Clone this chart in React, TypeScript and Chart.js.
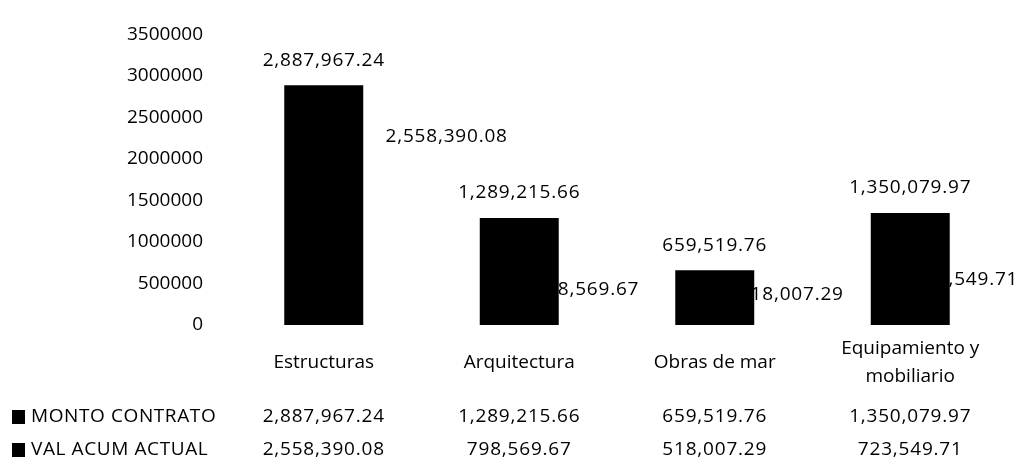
import React, { useEffect, useRef } from "react";
import { Chart, registerables } from "chart.js";

Chart.register(...registerables);

// ---- data ----
const categoryLabels: (string | string[])[] = [
  "Estructuras",
  "Arquitectura",
  "Obras de mar",
  ["Equipamiento y", "mobiliario"],
];
const seriesNames = ["MONTO CONTRATO", "VAL ACUM ACTUAL"];
const montoContrato = [2887967.24, 1289215.66, 659519.76, 1350079.97];
const valAcumActual = [2558390.08, 798569.67, 518007.29, 723549.71];
const yMin = 0;
const yMax = 3500000;
const yStep = 500000;

// ---- style ----
const FONT = "'Open Sans', Lato, sans-serif";
const FONT_SIZE = 19;
const TEXT = "#000";
const SPACING = "0.8px";
// manually moved labels of the second series (offsets from bar centre / value pixel)
const valLabelDX = [184, 120, 129, 108];
const valLabelDY = [24, 31, 13, 15];
const tableRowY = [417, 450];

const fmt = new Intl.NumberFormat("en-US", {
  minimumFractionDigits: 2,
  maximumFractionDigits: 2,
});

function setFont(ctx: any, spacing: string) {
  ctx.font = `${FONT_SIZE}px ${FONT}`;
  ctx.fillStyle = TEXT;
  try {
    ctx.letterSpacing = spacing;
  } catch (e) {}
}

const labelsPlugin = {
  id: "customLabels",
  beforeDatasetsDraw(chart: any) {
    const ctx = chart.ctx;
    const meta = chart.getDatasetMeta(1);
    ctx.save();
    setFont(ctx, SPACING);
    ctx.textAlign = "right";
    ctx.textBaseline = "middle";
    meta.data.forEach((el: any, i: number) => {
      ctx.fillText(fmt.format(valAcumActual[i]), el.x + valLabelDX[i], el.y + valLabelDY[i]);
    });
    ctx.restore();
  },
  afterDatasetsDraw(chart: any) {
    const ctx = chart.ctx;
    const meta = chart.getDatasetMeta(0);
    ctx.save();
    setFont(ctx, SPACING);
    ctx.textAlign = "center";
    ctx.textBaseline = "middle";
    meta.data.forEach((el: any, i: number) => {
      ctx.fillText(fmt.format(montoContrato[i]), el.x, el.y - 25);
    });
    ctx.restore();
  },
  afterDraw(chart: any) {
    const ctx = chart.ctx;
    const x = chart.scales.x;
    const rows = [montoContrato, valAcumActual];
    ctx.save();
    ctx.textBaseline = "middle";
    rows.forEach((vals, r) => {
      const y = tableRowY[r];
      setFont(ctx, "0.6px");
      ctx.fillRect(12, y - 7, 13, 14);
      ctx.textAlign = "left";
      ctx.fillText(seriesNames[r], 31, y);
      setFont(ctx, SPACING);
      ctx.textAlign = "center";
      vals.forEach((v, i) => {
        ctx.fillText(fmt.format(v), x.getPixelForValue(i), y);
      });
    });
    ctx.restore();
  },
};

export default function App() {
  const ref = useRef<HTMLCanvasElement | null>(null);

  useEffect(() => {
    if (!ref.current) return;
    const chart = new Chart(ref.current, {
      type: "bar",
      data: {
        labels: categoryLabels as any,
        datasets: [
          {
            label: seriesNames[0],
            data: montoContrato,
            backgroundColor: "#000",
            grouped: false,
            order: 1,
            categoryPercentage: 1,
            barPercentage: 0.404,
          } as any,
          {
            label: seriesNames[1],
            data: valAcumActual,
            backgroundColor: "rgba(255,255,255,0)",
            grouped: false,
            order: 2,
            categoryPercentage: 1,
            barPercentage: 0.404,
          } as any,
        ],
      },
      options: {
        animation: false,
        responsive: false,
        maintainAspectRatio: false,
        layout: { padding: { left: 0, right: 20, top: 24, bottom: 0 } },
        plugins: {
          legend: { display: false },
          tooltip: { enabled: false },
        },
        scales: {
          x: {
            grid: { display: false, drawTicks: false },
            border: { display: false },
            ticks: {
              color: TEXT,
              font: { family: FONT, size: FONT_SIZE, lineHeight: 1.45 },
              padding: 24,
              crossAlign: "center",
              maxRotation: 0,
              autoSkip: false,
            },
            afterFit(scale: any) {
              scale.height = 141;
            },
          },
          y: {
            min: yMin,
            max: yMax,
            grid: { display: false, drawTicks: false },
            border: { display: false },
            ticks: {
              stepSize: yStep,
              color: TEXT,
              font: { family: FONT, size: FONT_SIZE },
              padding: 23,
              callback: (v: any) => String(v),
            },
            afterFit(scale: any) {
              scale.width = 226;
            },
          },
        },
      },
      plugins: [labelsPlugin],
    });
    return () => chart.destroy();
  }, []);

  return (
    <div style={{ position: "fixed", left: 0, top: 0, width: 1028, height: 466, background: "#fff" }}>
      <canvas ref={ref} width={1028} height={466} style={{ display: "block" }} />
    </div>
  );
}
